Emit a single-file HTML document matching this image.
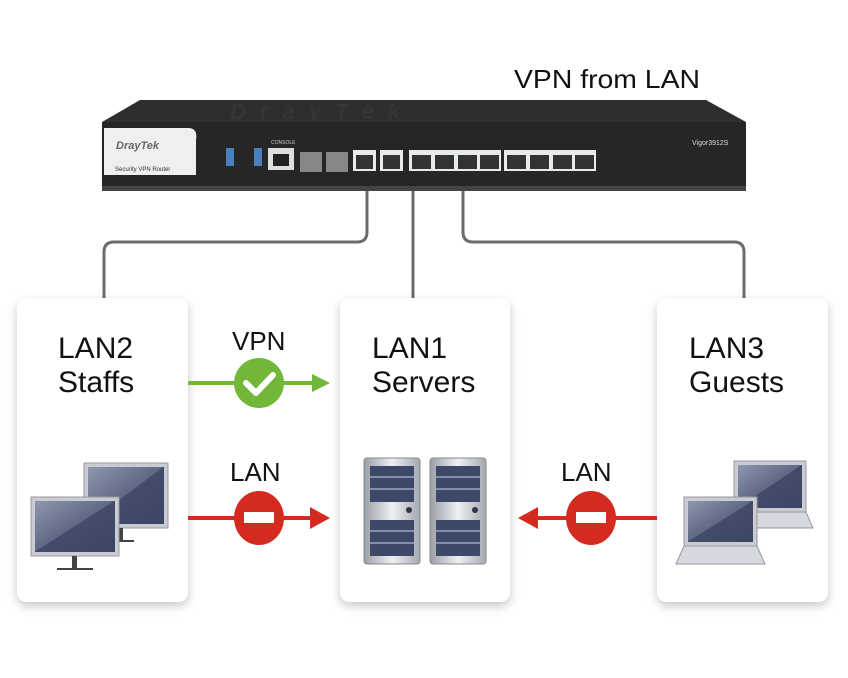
<!DOCTYPE html>
<html><head><style>
body{margin:0;background:#fff;width:848px;height:678px;overflow:hidden}
svg{display:block}
text{font-family:"Liberation Sans",sans-serif}
</style></head><body>
<svg width="848" height="678" viewBox="0 0 848 678">
<defs>
<linearGradient id="scr" x1="0" y1="0" x2="1" y2="1">
<stop offset="0" stop-color="#8f97ad"/><stop offset="0.49" stop-color="#5f6985"/><stop offset="0.5" stop-color="#434d6a"/><stop offset="1" stop-color="#3c4562"/></linearGradient>
<linearGradient id="sv" x1="0" y1="0" x2="1" y2="0">
<stop offset="0" stop-color="#9a9ea6"/><stop offset="0.5" stop-color="#eef0f3"/><stop offset="1" stop-color="#a4a8b0"/></linearGradient>
<filter id="sh" x="-20%" y="-10%" width="140%" height="130%"><feDropShadow dx="0" dy="4" stdDeviation="5" flood-color="#000" flood-opacity="0.22"/></filter>
</defs>
<text x="514" y="88" font-size="26" fill="#111" textLength="186" lengthAdjust="spacingAndGlyphs">VPN from LAN</text>
<g fill="none" stroke="#6b6b6b" stroke-width="3">
<path d="M367 188 V232 Q367 242 357 242 H114 Q104 242 104 252 V300"/>
<path d="M413 188 V300"/>
<path d="M463 188 V232 Q463 242 473 242 H734 Q744 242 744 252 V300"/>
</g>
<polygon points="140,100 706,100 746,122 102,122" fill="#2e2e2e"/>
<text x="230" y="119" font-size="22" font-style="italic" font-weight="bold" fill="#353535" letter-spacing="14">DrayTek</text>
<rect x="102" y="122" width="644" height="68" fill="#262626"/>
<rect x="102" y="186" width="644" height="5" fill="#444"/>
<path d="M104 128 H188 Q198 128 196 140 V175 H104 Z" fill="#efefef"/>
<text x="116" y="149" font-size="11" font-style="italic" font-weight="bold" fill="#666">DrayTek</text>
<text x="115" y="171" font-size="6" fill="#333">Security VPN Router</text>
<text x="692" y="145" font-size="7" fill="#ddd">Vigor3912S</text>
<rect x="226" y="148" width="8" height="18" fill="#4a7fc0"/><rect x="254" y="148" width="8" height="18" fill="#4a7fc0"/>
<rect x="268" y="148" width="26" height="22" fill="#ddd"/><rect x="273" y="154" width="16" height="12" fill="#222"/>
<text x="271" y="144" font-size="5" fill="#ccc">CONSOLE</text>
<rect x="300" y="152" width="22" height="20" fill="#888"/><rect x="326" y="152" width="22" height="20" fill="#888"/>
<g fill="#e8ece8"><rect x="353" y="150" width="23" height="21"/><rect x="380" y="150" width="23" height="21"/><rect x="409" y="150" width="92" height="21"/><rect x="504" y="150" width="92" height="21"/></g>
<g fill="#333"><rect x="356" y="155" width="17" height="14"/><rect x="383" y="155" width="17" height="14"/>
<rect x="412" y="155" width="19" height="14"/><rect x="435" y="155" width="19" height="14"/><rect x="458" y="155" width="19" height="14"/><rect x="480" y="155" width="19" height="14"/>
<rect x="507" y="155" width="19" height="14"/><rect x="530" y="155" width="19" height="14"/><rect x="553" y="155" width="19" height="14"/><rect x="575" y="155" width="19" height="14"/></g>
<g fill="#fff" filter="url(#sh)">
<rect x="17" y="298" width="171" height="304" rx="10"/>
<rect x="340" y="298" width="170" height="304" rx="10"/>
<rect x="657" y="298" width="171" height="304" rx="10"/>
</g>
<g font-size="30" fill="#111">
<text x="58" y="358">LAN2</text><text x="58" y="392">Staffs</text>
<text x="372" y="358">LAN1</text><text x="372" y="392">Servers</text>
<text x="689" y="358">LAN3</text><text x="689" y="392">Guests</text>
<text x="232" y="350" font-size="26">VPN</text>
<text x="230" y="481" font-size="26">LAN</text>
<text x="561" y="481" font-size="26">LAN</text>
</g>
<line x1="188" y1="383" x2="315" y2="383" stroke="#72b73a" stroke-width="4"/>
<polygon points="312,374 330,383 312,392" fill="#72b73a"/>
<circle cx="259" cy="383" r="25" fill="#72b73a"/>
<path d="M246 383 L256 393 L273 375" fill="none" stroke="#fff" stroke-width="6" stroke-linecap="round" stroke-linejoin="round"/>
<line x1="188" y1="518" x2="315" y2="518" stroke="#d42a1f" stroke-width="4"/>
<polygon points="310,507 330,518 310,529" fill="#d42a1f"/>
<ellipse cx="259" cy="518" rx="25" ry="27" fill="#d42a1f"/>
<rect x="244" y="512" width="30" height="11" fill="#fff"/>
<line x1="535" y1="518" x2="657" y2="518" stroke="#d42a1f" stroke-width="4"/>
<polygon points="538,507 518,518 538,529" fill="#d42a1f"/>
<ellipse cx="591" cy="518" rx="25" ry="27" fill="#d42a1f"/>
<rect x="576" y="512" width="30" height="11" fill="#fff"/>
<g>
<rect x="84" y="463" width="84" height="65" fill="#c9ccd2" stroke="#999"/>
<rect x="88" y="467" width="76" height="57" fill="url(#scr)"/>
<rect x="118" y="528" width="5" height="12" fill="#444"/><rect x="108" y="540" width="26" height="2" fill="#444"/>
<rect x="31" y="497" width="88" height="59" fill="#c9ccd2" stroke="#999"/>
<rect x="35" y="501" width="80" height="51" fill="url(#scr)"/>
<rect x="72" y="556" width="5" height="12" fill="#444"/><rect x="57" y="568" width="36" height="2" fill="#444"/>
</g>
<g>
<rect x="364" y="458" width="56" height="106" rx="3" fill="url(#sv)" stroke="#888"/>
<rect x="430" y="458" width="56" height="106" rx="3" fill="url(#sv)" stroke="#888"/>
<g fill="#3e4868"><rect x="370" y="466" width="44" height="36"/><rect x="370" y="520" width="44" height="36"/>
<rect x="436" y="466" width="44" height="36"/><rect x="436" y="520" width="44" height="36"/></g>
<g stroke="#c8d0e8" stroke-width="1"><path d="M370 477H414M370 489H414M370 531H414M370 543H414M436 477H480M436 489H480M436 531H480M436 543H480"/></g>
<circle cx="409" cy="510" r="3" fill="#334"/><circle cx="475" cy="510" r="3" fill="#334"/>
</g>
<g>
<rect x="734" y="461" width="72" height="51" fill="#c9ccd2" stroke="#999"/>
<rect x="738" y="465" width="64" height="43" fill="url(#scr)"/>
<polygon points="734,512 806,512 813,528 727,528" fill="#d5d8de" stroke="#999"/>
<rect x="684" y="497" width="73" height="49" fill="#c9ccd2" stroke="#999"/>
<rect x="688" y="501" width="65" height="41" fill="url(#scr)"/>
<polygon points="684,546 757,546 765,564 676,564" fill="#d5d8de" stroke="#999"/>
</g>
</svg>
</body></html>
